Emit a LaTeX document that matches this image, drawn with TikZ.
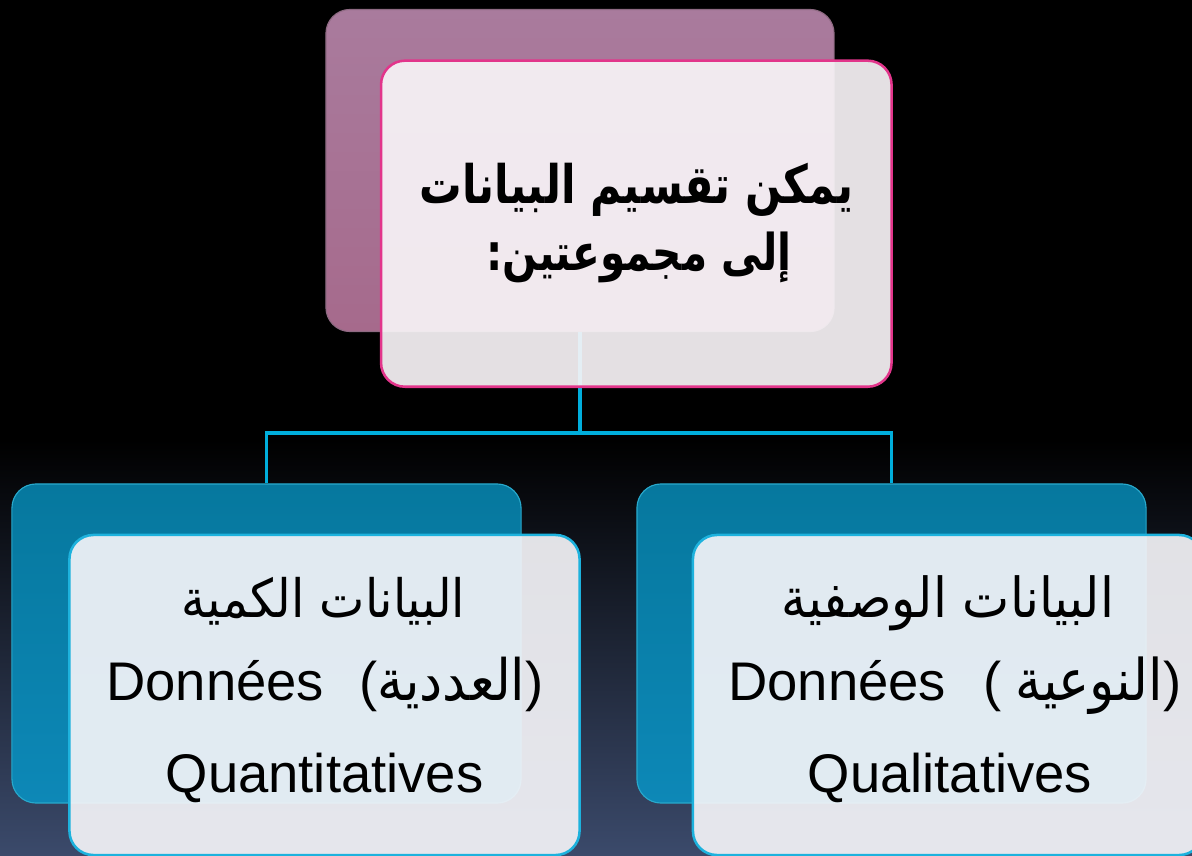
\documentclass[tikz,border=0pt]{standalone}
\usepackage{fontspec}
\usepackage{graphicx}
\setmainfont{Liberation Sans}
\newfontfamily\arabicfont[Script=Arabic]{DejaVu Sans}
\TeXXeTstate=1
\definecolor{mauveT}{HTML}{A97B9D}
\definecolor{mauveB}{HTML}{A66A8C}
\definecolor{mauveD}{HTML}{8E6A82}
\definecolor{tealT}{HTML}{06789E}
\definecolor{tealB}{HTML}{0D88B7}
\definecolor{tealD}{HTML}{28A9CC}
\definecolor{pinkline}{HTML}{E2358B}
\definecolor{cyanline}{HTML}{1DB2DD}
\definecolor{conncol}{HTML}{00AEDC}
\definecolor{bgbot}{HTML}{3B4A6B}
\definecolor{frontpink}{HTML}{F8F4F7}
\definecolor{frontblue}{HTML}{F4F4F8}
\tikzset{
  backtop/.style={rectangle, rounded corners=0.6cm, inner sep=0pt,
    minimum width=12.7cm, minimum height=8.05cm,
    top color=mauveT, bottom color=mauveB, draw=mauveD, line width=0.8pt},
  fronttop/.style={rectangle, rounded corners=0.6cm, inner sep=0pt,
    minimum width=12.76cm, minimum height=8.15cm,
    fill=frontpink, fill opacity=0.92, draw=pinkline, line width=1.8pt},
  backlow/.style={rectangle, rounded corners=0.6cm, inner sep=0pt,
    minimum width=12.725cm, minimum height=7.975cm,
    top color=tealT, bottom color=tealB, draw=tealD, line width=0.8pt},
  frontlow/.style={rectangle, rounded corners=0.6cm, inner sep=0pt,
    minimum width=12.75cm, minimum height=8cm,
    fill=frontblue, fill opacity=0.92, draw=cyanline, line width=1.8pt},
  conn/.style={draw=conncol, line width=2.6pt},
  txt/.style={inner sep=0pt, text=black, font=\fontsize{38.7}{42}\selectfont}
}
\begin{document}
\begin{tikzpicture}[x=0.025cm, y=-0.025cm]
\useasboundingbox (0,0) rectangle (1192,856);
\clip (0,0) rectangle (1192,856);
% background
\fill[black] (0,0) rectangle (1192,856);
\shade[top color=black, bottom color=bgbot] (0,440) rectangle (1192,856);
% back boxes
\node[backtop] (bt) at (580,170.5) {};
\node[backlow] (bl) at (266.5,643.5) {};
\node[backlow] (br) at (891.5,643.5) {};
% connectors
\coordinate (j) at (580,433);
\draw[conn] (bt.south) -- (j);
\draw[conn] (j) -| (bl.north);
\draw[conn] (j) -| (br.north);
% front boxes
\node[fronttop] (ft) at (636.3,223.7) {};
\node[frontlow] (fl) at (324.5,695) {};
\node[frontlow] (fr) at (948,695) {};
% top text
\node[txt, anchor=base] (t1) at (636.5,203) {\resizebox{10.825cm}{!}{\scalebox{1}[1.25]{\arabicfont\bfseries\beginR يمكن تقسيم البيانات\endR}}};
\node[txt, anchor=base] (t2) at (639,270) {\resizebox{7.63cm}{!}{\scalebox{1}[1.25]{\arabicfont\bfseries\beginR إلى مجموعتين:\endR}}};
% left text
\node[txt, anchor=base] (l1) at (323.5,617) {\resizebox{7.075cm}{!}{\scalebox{1}[1.1]{\arabicfont\beginR البيانات الكمية\endR}}};
\node[txt, anchor=base west] (l2) at (106,700) {Données};
\node[txt, anchor=base west] (l3) at (359,700) {(\resizebox{3.7cm}{!}{\scalebox{1}[1.1]{\arabicfont\beginR العددية\endR}})};
\node[txt, anchor=base] (l4) at (324.5,792) {Quantitatives};
% right text
\node[txt, anchor=base] (r1) at (948,617) {\resizebox{8.3cm}{!}{\scalebox{1}[1.1]{\arabicfont\beginR البيانات الوصفية\endR}}};
\node[txt, anchor=base west] (r2) at (728,700) {Données};
\node[txt, anchor=base west] (r3) at (983,700) {(\hspace{0.25em}\resizebox{3.7cm}{!}{\scalebox{1}[1.1]{\arabicfont\beginR النوعية\endR}})};
\node[txt, anchor=base] (r4) at (950,792) {Qualitatives};
\end{tikzpicture}
\end{document}
